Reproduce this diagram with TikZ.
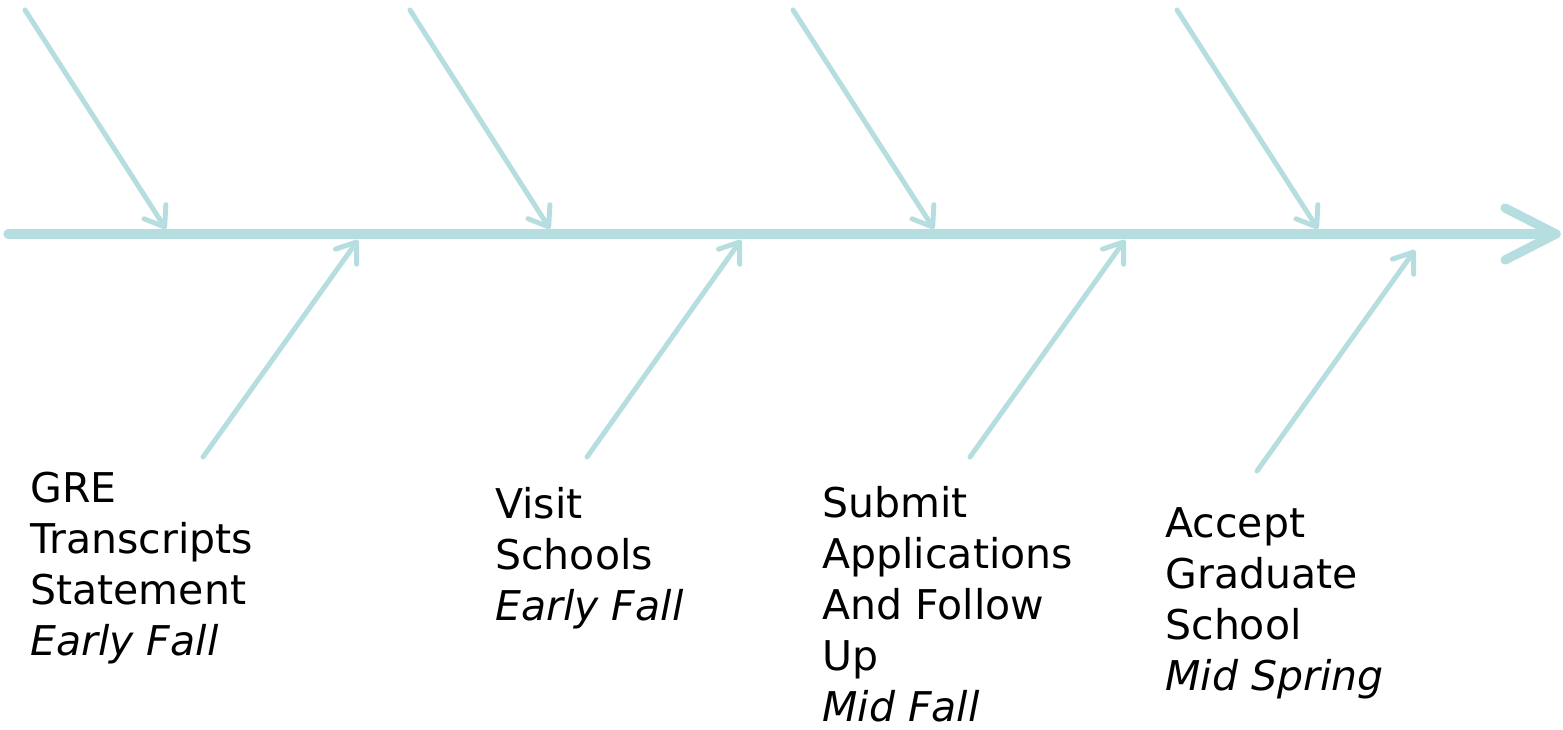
\documentclass[tikz,border=0pt]{standalone}
\usepackage{fontspec}
\setmainfont{DejaVu Sans}
\usetikzlibrary{arrows.meta}
\definecolor{bone}{RGB}{182,221,224}
\begin{document}
\begin{tikzpicture}[x=0.5pt,y=-0.5pt,
  spine/.style={draw=bone,line width=4.6pt,line cap=round,line join=round},
  rib/.style={draw=bone,line width=2.5pt,line cap=round,-{Straight Barb[length=9pt,width=13pt,round]}},
  lbl/.style={anchor=base west,inner sep=0pt,align=left,font=\fontsize{20.5pt}{25.5pt}\selectfont}]
\useasboundingbox (0,0) rectangle (1563,729);
% spine
\coordinate (s0) at (8,234);
\coordinate (s1) at (1556,234);
\coordinate (h1) at (1505,208);
\coordinate (h2) at (1505,260);
\draw[spine] (s0) -- (s1);
\draw[spine] (h1) -- (s1) -- (h2);
% upper ribs
\coordinate (a1) at (25,10);   \coordinate (b1) at (166,229);
\coordinate (a2) at (410,10);  \coordinate (b2) at (550,229);
\coordinate (a3) at (793,10);  \coordinate (b3) at (934,229);
\coordinate (a4) at (1177,10); \coordinate (b4) at (1318,229);
\foreach \i in {1,...,4} \draw[rib] (a\i) -- (b\i);
% lower ribs
\coordinate (c1) at (203,457);  \coordinate (d1) at (358,240);
\coordinate (c2) at (587,457);  \coordinate (d2) at (741,240);
\coordinate (c3) at (970,457);  \coordinate (d3) at (1125,240);
\coordinate (c4) at (1257,471); \coordinate (d4) at (1415,250);
\foreach \i in {1,...,4} \draw[rib] (c\i) -- (d\i);
% labels (anchored at the baseline of the last line)
\node[lbl] (t1) at (30,655) {GRE\\Transcripts\\Statement\\\textit{Early Fall}};
\node[lbl] (t2) at (495,620) {Visit\\Schools\\\textit{Early Fall}};
\node[lbl] (t3) at (822,721) {Submit\\Applications\\And Follow\\Up\\\textit{Mid Fall}};
\node[lbl] (t4) at (1165,690) {Accept\\Graduate\\School\\\textit{Mid Spring}};
\end{tikzpicture}
\end{document}
